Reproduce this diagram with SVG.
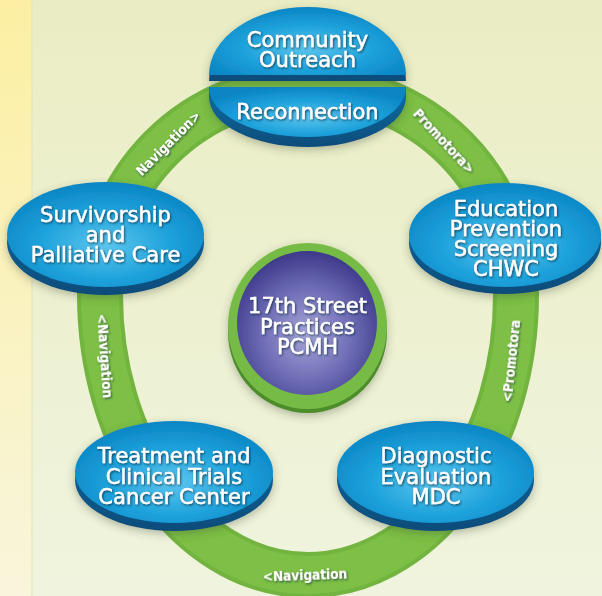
<svg xmlns="http://www.w3.org/2000/svg" width="602" height="596" viewBox="0 0 602 596">
<defs>
  <linearGradient id="bg" x1="0" y1="0" x2="0" y2="1">
    <stop offset="0" stop-color="#eaedc3"/>
    <stop offset="1" stop-color="#f0f4de"/>
  </linearGradient>
  <linearGradient id="strip" x1="0" y1="0" x2="0" y2="1">
    <stop offset="0" stop-color="#fcefa2"/>
    <stop offset="1" stop-color="#f8f5dc"/>
  </linearGradient>
  <radialGradient id="face" cx="0.5" cy="0.6" r="0.6">
    <stop offset="0" stop-color="#5cc6ee"/>
    <stop offset="0.55" stop-color="#1ea2db"/>
    <stop offset="1" stop-color="#0a85c4"/>
  </radialGradient>
  <linearGradient id="rim" x1="0" y1="0" x2="0" y2="1">
    <stop offset="0" stop-color="#0e6ea5"/>
    <stop offset="1" stop-color="#0a4c7a"/>
  </linearGradient>
  <radialGradient id="purple" cx="0.5" cy="0.58" r="0.58">
    <stop offset="0" stop-color="#a7a6d8"/>
    <stop offset="0.55" stop-color="#6f6db6"/>
    <stop offset="1" stop-color="#3c398a"/>
  </radialGradient>
  <filter id="ts" x="-10%" y="-40%" width="120%" height="180%">
    <feDropShadow dx="1" dy="1.2" stdDeviation="0.9" flood-color="#0a2a40" flood-opacity="0.8"/>
  </filter>
  <filter id="ns" x="-20%" y="-20%" width="140%" height="150%">
    <feDropShadow dx="0" dy="3" stdDeviation="4" flood-color="#3a4a30" flood-opacity="0.35"/>
  </filter>
  <style>
    .t { font-family: "DejaVu Sans", "Liberation Sans", sans-serif; font-size: 21px; fill: #ffffff; text-anchor: middle; stroke: #ffffff; stroke-width: 0.45px; }
    .l { font-family: "DejaVu Sans Condensed", "DejaVu Sans", sans-serif; font-stretch: condensed; font-weight: bold; font-size: 13.5px; fill: #ffffff; text-anchor: middle; }
    .face { fill: url(#face); }
    .rim { fill: url(#rim); }
  </style>
</defs>

<rect x="0" y="0" width="602" height="596" fill="url(#bg)"/>
<rect x="0" y="0" width="32" height="596" fill="url(#strip)"/>
<line x1="32" y1="0" x2="32" y2="596" stroke="#e3e2b8" stroke-width="1"/>

<g id="connectors">
  <path d="M100 295 A208 208 0 0 1 516 295 A208 280 0 0 1 100 295 Z" fill="none" stroke="#72b43f" stroke-width="46"/>
  <path d="M100 295 A208 208 0 0 1 516 295 A208 280 0 0 1 100 295 Z" fill="none" stroke="#7dc045" stroke-width="38"/>
  <g filter="url(#ts)">
    <text class="l" transform="translate(168,143) rotate(-45)" y="5">Navigation&gt;</text>
    <text class="l" transform="translate(444,141) rotate(47)" y="5">Promotora&gt;</text>
    <text class="l" transform="translate(105,356) rotate(86)" y="5">&lt;Navigation</text>
    <text class="l" transform="translate(511,361) rotate(-84)" y="5">&lt;Promotora</text>
    <text class="l" transform="translate(305,575) rotate(-2)" y="5">&lt;Navigation</text>
  </g>
</g>

<g id="community-outreach" filter="url(#ns)">
  <path class="rim" d="M209 81 A98.5 68 0 0 1 406 81 Z"/>
  <path class="face" d="M209 75 A98.5 68 0 0 1 406 75 Z"/>
  <g filter="url(#ts)">
    <text class="t" x="307.5" y="47">Community</text>
    <text class="t" x="307.5" y="67">Outreach</text>
  </g>
</g>

<g id="reconnection" filter="url(#ns)">
  <path class="rim" d="M209 87 L209 97 A98.5 50 0 0 0 406 97 L406 87 Z"/>
  <path class="face" d="M209 87 A98.5 50 0 0 0 406 87 Z"/>
  <text class="t" x="307.5" y="119" filter="url(#ts)">Reconnection</text>
</g>

<g id="survivorship" filter="url(#ns)">
  <ellipse class="rim" cx="105.5" cy="242.5" rx="98.5" ry="52.5"/>
  <ellipse class="face" cx="105.5" cy="234.5" rx="98.5" ry="52.5"/>
  <g filter="url(#ts)">
    <text class="t" x="105.5" y="222">Survivorship</text>
    <text class="t" x="105.5" y="242">and</text>
    <text class="t" x="105.5" y="262">Palliative Care</text>
  </g>
</g>

<g id="education" filter="url(#ns)">
  <ellipse class="rim" cx="505" cy="243" rx="96" ry="51"/>
  <ellipse class="face" cx="505" cy="235" rx="96" ry="52"/>
  <g filter="url(#ts)">
    <text class="t" x="506" y="216">Education</text>
    <text class="t" x="506" y="236">Prevention</text>
    <text class="t" x="506" y="256">Screening</text>
    <text class="t" x="506" y="276">CHWC</text>
  </g>
</g>

<g id="pcmh" filter="url(#ns)">
  <ellipse cx="307.5" cy="332" rx="79.5" ry="81" fill="#4d8c2c"/>
  <ellipse cx="307.5" cy="326" rx="79.5" ry="83" fill="#76bb44"/>
  <ellipse cx="307" cy="323" rx="70" ry="72" fill="url(#purple)"/>
  <g filter="url(#ts)">
    <text class="t" x="307.5" y="313">17th Street</text>
    <text class="t" x="307.5" y="334">Practices</text>
    <text class="t" x="307.5" y="354">PCMH</text>
  </g>
</g>

<g id="treatment" filter="url(#ns)">
  <ellipse class="rim" cx="174" cy="480" rx="99" ry="51"/>
  <ellipse class="face" cx="174" cy="472" rx="99" ry="51"/>
  <g filter="url(#ts)">
    <text class="t" x="174" y="463">Treatment and</text>
    <text class="t" x="174" y="484">Clinical Trials</text>
    <text class="t" x="174" y="504">Cancer Center</text>
  </g>
</g>

<g id="diagnostic" filter="url(#ns)">
  <ellipse class="rim" cx="435.5" cy="480" rx="98.5" ry="51"/>
  <ellipse class="face" cx="435.5" cy="472" rx="98.5" ry="51"/>
  <g filter="url(#ts)">
    <text class="t" x="436" y="463">Diagnostic</text>
    <text class="t" x="436" y="484">Evaluation</text>
    <text class="t" x="436" y="504">MDC</text>
  </g>
</g>
</svg>
